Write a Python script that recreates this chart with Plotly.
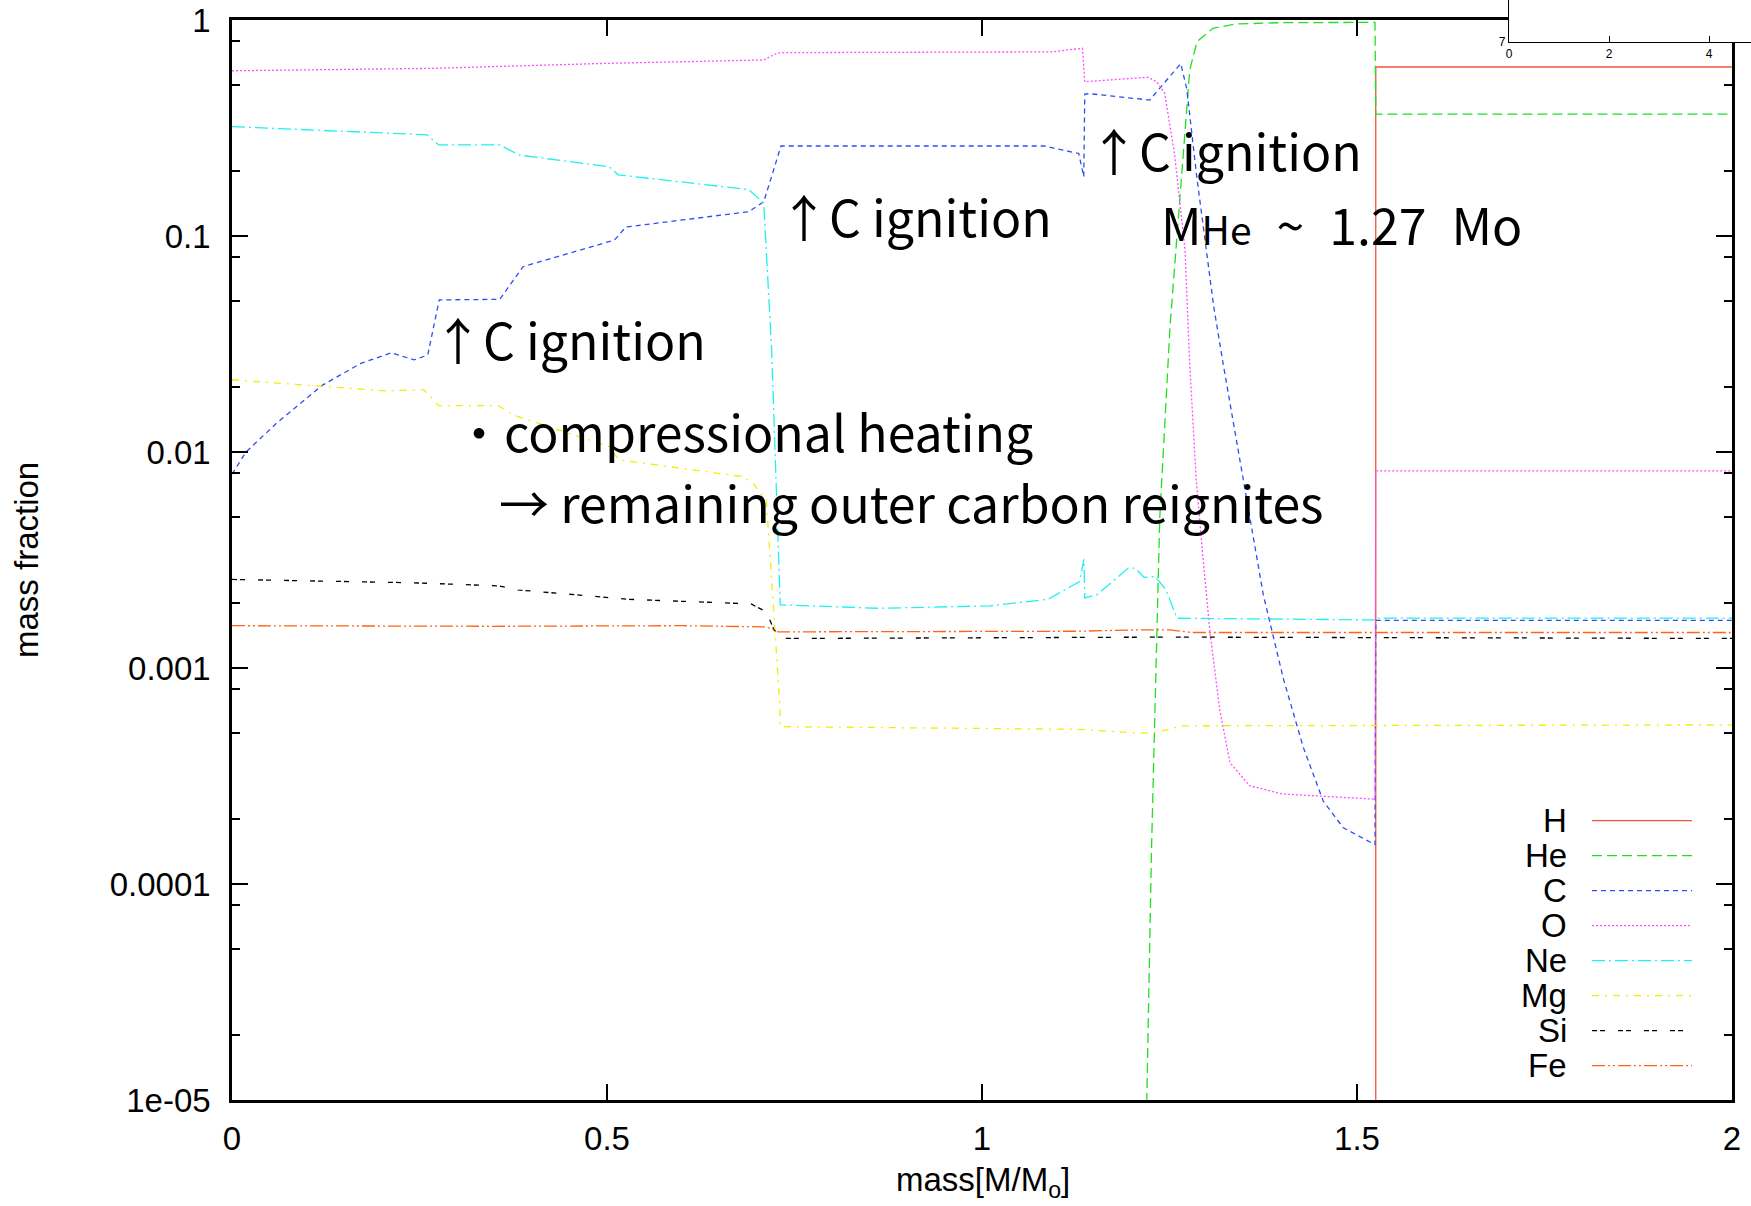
import plotly.graph_objects as go

# ---------------- data ----------------
h_mass = [1.525, 1.525, 2.0]
h_frac = [1e-8, 0.606, 0.606]

he_mass = [1.2187, 1.2197, 1.226, 1.237, 1.2507, 1.2587, 1.2667, 1.277, 1.2867, 1.3077, 1.338, 1.40, 1.524, 1.525, 2.0]
he_frac = [6e-6, 1e-5, 0.000144, 0.00494, 0.0381, 0.086, 0.202, 0.587, 0.794, 0.915, 0.958, 0.972, 0.975, 0.367, 0.367]

c_mass = [0.0, 0.0187, 0.0594, 0.1207, 0.1716, 0.2124, 0.243, 0.261, 0.2763, 0.357, 0.388, 0.510, 0.525,
          0.689, 0.709, 0.732, 1.0827, 1.129, 1.1357, 1.137, 1.143, 1.2236, 1.265, 1.273, 1.2862, 1.2987,
          1.309, 1.3218, 1.3485, 1.375, 1.4018, 1.4284, 1.455, 1.4818, 1.524, 1.525, 2.0]
c_frac = [0.0079, 0.010, 0.0136, 0.0204, 0.0257, 0.0288, 0.0267, 0.0281, 0.0506, 0.0509, 0.0721, 0.0958, 0.110,
          0.1296, 0.144, 0.261, 0.261, 0.241, 0.188, 0.454, 0.456, 0.426, 0.628, 0.48, 0.19, 0.086,
          0.047, 0.0253, 0.00745, 0.00219, 0.000893, 0.000429, 0.000242, 0.000182, 0.000152, 0.00166, 0.00166]

o_mass = [0.0, 0.265, 0.5, 0.709, 0.726, 0.732, 1.093, 1.134, 1.137, 1.221, 1.233, 1.2435, 1.2566, 1.2707,
          1.277, 1.2856, 1.2944, 1.304, 1.317, 1.3307, 1.357, 1.401, 1.524, 1.525, 2.0]
o_frac = [0.582, 0.597, 0.63, 0.653, 0.70, 0.706, 0.712, 0.74, 0.518, 0.543, 0.518, 0.458, 0.242, 0.086,
          0.0253, 0.00745, 0.0033, 0.00146, 0.00064, 0.000364, 0.000285, 0.000261, 0.000247, 0.00817, 0.00817]

ne_mass = [0.0, 0.26, 0.2756, 0.357, 0.383, 0.503, 0.515, 0.689, 0.709, 0.7195, 0.731, 0.862, 1.0107, 1.088,
           1.13, 1.136, 1.137, 1.153, 1.195, 1.204, 1.216, 1.231, 1.2453, 1.26, 1.524, 1.525, 2.0]
ne_frac = [0.321, 0.294, 0.264, 0.264, 0.237, 0.209, 0.192, 0.164, 0.142, 0.0297, 0.00196, 0.00189, 0.00194, 0.00208,
           0.00251, 0.00319, 0.00211, 0.00218, 0.0029, 0.0029, 0.00263, 0.00265, 0.0023, 0.0017, 0.00167, 0.0017, 0.0017]

mg_mass = [0.0, 0.12, 0.2023, 0.2559, 0.276, 0.355, 0.3757, 0.503, 0.5157, 0.681, 0.694, 0.7125, 0.730, 0.731,
           1.13, 1.198, 1.225, 1.25, 1.266, 2.0]
mg_frac = [0.0216, 0.0202, 0.0192, 0.0194, 0.0164, 0.0164, 0.0148, 0.0106, 0.0092, 0.00769, 0.00721, 0.006, 0.00071,
           0.000535, 0.00052, 0.000502, 0.0005, 0.00052, 0.00054, 0.000545]

si_mass = [0.0, 0.2426, 0.355, 0.3808, 0.5288, 0.692, 0.7125, 0.7227, 0.7355, 1.15, 1.25, 2.0]
si_frac = [0.00257, 0.00248, 0.0024, 0.0023, 0.00208, 0.00198, 0.00182, 0.0015, 0.00137, 0.00139, 0.00139, 0.00137]

fe_mass = [0.0, 0.35, 0.6, 0.7125, 0.728, 1.13, 1.2, 1.25, 1.28, 2.0]
fe_frac = [0.00157, 0.00156, 0.00157, 0.00155, 0.00147, 0.00148, 0.0015, 0.0015, 0.00146, 0.00146]

species = ["H", "He", "C", "O", "Ne", "Mg", "Si", "Fe"]
x_ticks = [0, 0.5, 1, 1.5, 2]
x_ticktext = ["0", "0.5", "1", "1.5", "2"]
y_ticks = [1e-5, 1e-4, 1e-3, 1e-2, 1e-1, 1]
y_ticktext = ["1e-05", "0.0001", "0.001", "0.01", "0.1", "1"]
inset_x_ticks = [0, 2, 4]
inset_y_ticks = [7]

# ---------------- styles ----------------
series = [
    (h_mass, h_frac, "#f4533b", "solid"),
    (he_mass, he_frac, "#1fe01f", "10px,5px"),
    (c_mass, c_frac, "#2f4cf2", "5px,4px"),
    (o_mass, o_frac, "#ff4cff", "2px,2px"),
    (ne_mass, ne_frac, "#1ff0f0", "13px,4px,2px,4px"),
    (mg_mass, mg_frac, "#f2ee00", "7px,6px,2px,6px"),
    (si_mass, si_frac, "#000000", "5px,3px,5px,13px"),
    (fe_mass, fe_frac, "#ff6418", "13px,3px,2px,3px,2px,3px"),
]

FONT = "Liberation Sans, Arial, Helvetica, sans-serif"
JFONT = "Noto Sans CJK JP, Noto Sans, sans-serif"
W, H = 1751, 1206
ML, MB = 232, 106
PW, PH = W - ML, H - MB

def px(fx):
    return (fx - ML) / PW

def py(fy):
    return (PH - fy) / PH

fig = go.Figure()
for (xs, ys, col, dash), name in zip(series, species):
    fig.add_trace(go.Scatter(x=xs, y=ys, mode="lines", name=name, showlegend=False,
                             line=dict(color=col, width=1.3, dash=dash)))

# empty trace for the inset axes fragment
fig.add_trace(go.Scatter(x=[], y=[], xaxis="x2", yaxis="y2", showlegend=False))

minor_vals = []
for k in range(-5, 0):
    for m in (2, 5, 8):
        minor_vals.append(m * 10 ** k)

fig.update_layout(
    width=W, height=H,
    margin=dict(l=ML, r=0, t=0, b=MB, autoexpand=False),
    paper_bgcolor="white", plot_bgcolor="white",
    showlegend=False,
    font=dict(family=FONT, size=33, color="black"),
    xaxis=dict(domain=[0, px(1732)], range=[0, 2], tickmode="array", tickvals=x_ticks, ticktext=x_ticktext,
               ticks="inside", ticklen=16, tickwidth=2, tickcolor="black",
               showline=True, linewidth=2.5, linecolor="black", mirror="ticks",
               showgrid=False, zeroline=False, tickfont=dict(size=33), ticklabelstandoff=8),
    yaxis=dict(domain=[0, py(20)], type="log", range=[-5, 0], tickmode="array", tickvals=y_ticks,
               ticktext=y_ticktext, ticks="inside", ticklen=16, tickwidth=2, tickcolor="black",
               minor=dict(tickmode="array", tickvals=minor_vals, ticks="inside", ticklen=8, tickwidth=2,
                          tickcolor="black"),
               showline=True, linewidth=2.5, linecolor="black", mirror="ticks",
               showgrid=False, zeroline=False, tickfont=dict(size=33), ticklabelstandoff=12),
    xaxis2=dict(domain=[px(1509), 1.0], range=[0, (W - 1509) / 50.0], anchor="y2",
                tickmode="array", tickvals=inset_x_ticks, ticks="inside", ticklen=6, tickwidth=1,
                tickcolor="black", showline=True, linewidth=1.2, linecolor="black",
                showgrid=False, zeroline=False, tickfont=dict(size=12)),
    yaxis2=dict(domain=[py(42), 1.0], range=[7, 10], anchor="x2",
                tickmode="array", tickvals=inset_y_ticks, ticks="", showline=True, linewidth=1.2,
                linecolor="black", showgrid=False, zeroline=False, tickfont=dict(size=12)),
)

# axis titles
fig.add_annotation(text="mass[M/M<sub>o</sub>]", xref="paper", yref="paper", x=px(983), y=py(1182),
                   xanchor="center", yanchor="middle", showarrow=False, font=dict(family=FONT, size=33))
fig.add_annotation(text="mass fraction", xref="paper", yref="paper", x=px(27), y=py(560), textangle=-90,
                   xanchor="center", yanchor="middle", showarrow=False, font=dict(family=FONT, size=33))

# legend (gnuplot style: label on the left, sample on the right)
for i, ((xs, ys, col, dash), name) in enumerate(zip(series, species)):
    fy = 820.7 + 35.0 * i
    fig.add_annotation(text=name, xref="paper", yref="paper", x=px(1569), y=py(fy), xanchor="right",
                       yanchor="middle", showarrow=False, font=dict(family=FONT, size=33))
    fig.add_shape(type="line", xref="paper", yref="paper", x0=px(1592), x1=px(1692), y0=py(fy), y1=py(fy),
                  line=dict(color=col, width=1.3, dash=dash))

# text annotations
EN = "\u2002"
notes = [
    ("↑C ignition", 0.2655, -1.474),
    ("↑C ignition", 0.726, -0.903),
    ("↑C ignition", 1.140, -0.595),
    ("M<span style='font-size:39px'>He</span>" + EN + "~" + EN + "1.27" + EN + "Mo", 1.236, -0.941),
    ("・compressional heating", 0.2928, -1.898),
    ("→ remaining outer carbon reignites", 0.3533, -2.229),
]
for txt, xv, yv in notes:
    fig.add_annotation(text=txt, x=xv, y=yv, xref="x", yref="y", xanchor="left", yanchor="middle",
                       showarrow=False, font=dict(family=JFONT, size=50, color="black"))

fig.write_html("out.html", config={"displayModeBar": False},
               post_script="document.body.style.margin='0px';document.body.style.overflow='hidden';")
